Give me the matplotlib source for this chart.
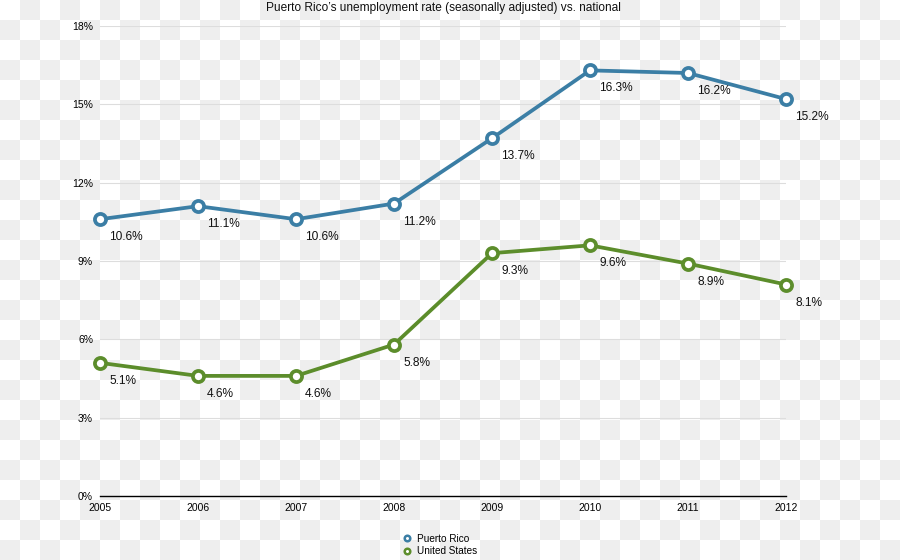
import numpy as np
import matplotlib
matplotlib.use("Agg")
import matplotlib.pyplot as plt

years = [2005, 2006, 2007, 2008, 2009, 2010, 2011, 2012]
puerto_rico = [10.6, 11.1, 10.6, 11.2, 13.7, 16.3, 16.2, 15.2]
united_states = [5.1, 4.6, 4.6, 5.8, 9.3, 9.6, 8.9, 8.1]
yticks = [0, 3, 6, 9, 12, 15, 18]

blue = "#3b7ea5"
green = "#5c8d2b"

plt.rcParams["font.family"] = ["Liberation Sans", "DejaVu Sans"]

fig = plt.figure(figsize=(9, 5.6), dpi=100)

# transparent-looking checkerboard behind everything
W, H, sq = 900, 560, 20
yy, xx = np.mgrid[0:H, 0:W]
board = np.where(((xx // sq) + (yy // sq)) % 2 == 1, 0.933, 1.0)
fig.figimage(board, cmap="gray", vmin=0, vmax=1, origin="upper", zorder=-10)

ax = fig.add_axes([100 / 900, 1 - 496 / 560, 686 / 900, 470 / 560])
ax.patch.set_alpha(0)

for y in yticks[1:]:
    ax.axhline(y, color="#dddddd", lw=0.8, zorder=1)

x = np.arange(len(years))
for vals, col, name in [(puerto_rico, blue, "Puerto Rico"), (united_states, green, "United States")]:
    ax.plot(x, vals, color=col, lw=2.7, marker="o", ms=8, mfc="white",
            mec=col, mew=2.7, zorder=3, label=name, clip_on=False)
    for xi, v in zip(x, vals):
        ax.annotate(f"{v}%", (xi, v), xytext=(9, -18), textcoords="offset pixels",
                    ha="left", va="center", fontsize=8.6, color="#111111")

ax.set_xlim(0, len(years) - 1)
ax.set_ylim(0, 18)
ax.set_xticks(x)
ax.set_xticklabels([str(y) for y in years], fontsize=7.5)
ax.set_yticks(yticks)
ax.set_yticklabels([f"{t}%" for t in yticks], fontsize=7.5)
ax.tick_params(length=0, pad=5)
for s in ["top", "right", "left"]:
    ax.spines[s].set_visible(False)
ax.spines["bottom"].set_color("black")
ax.spines["bottom"].set_linewidth(1.0)

fig.text(443 / 900, 1 - 8 / 560, "Puerto Rico’s unemployment rate (seasonally adjusted) vs. national",
         ha="center", va="center", fontsize=8.6, color="#111111")

leg = fig.legend(loc="center", bbox_to_anchor=(441 / 900, 1 - 545 / 560), frameon=False,
                 fontsize=7.2, handlelength=0.6, markerscale=0.5, labelspacing=0.25,
                 handletextpad=0.7)
for h in leg.legend_handles:
    h.set_linestyle("none")
    h.set_markeredgewidth(1.8)

fig.savefig("out.png", dpi=100)
